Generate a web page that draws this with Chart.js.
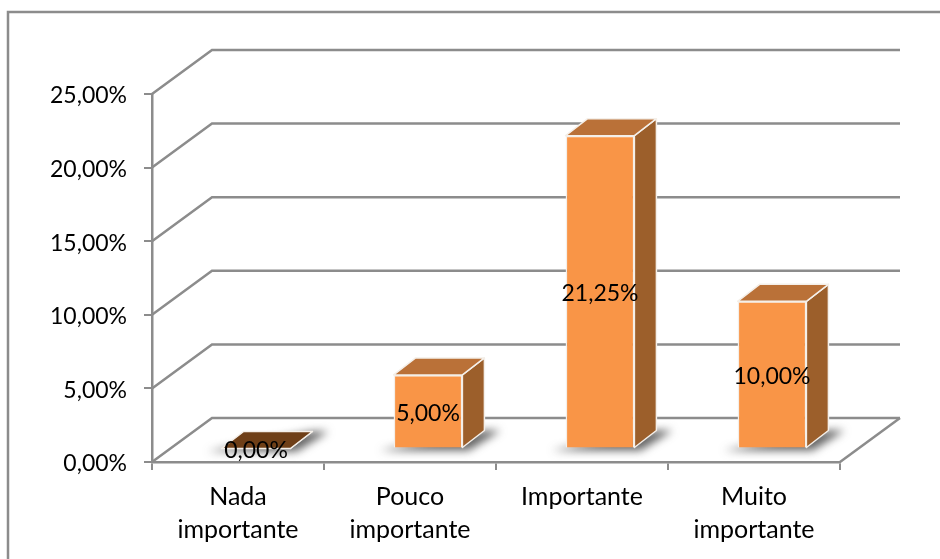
<!DOCTYPE html>
<html>
<head>
<meta charset="utf-8">
<style>
  body { margin: 0; background: #fff; }
</style>
<script src="https://cdn.jsdelivr.net/npm/chart.js@4"></script>
</head>
<body>
<canvas id="myChart" width="940" height="559"></canvas>
<script>
const categories = [["Nada", "importante"], ["Pouco", "importante"], "Importante", ["Muito", "importante"]];
const seriesValues = [0, 5, 21.25, 10];
const yTicks = [0, 5, 10, 15, 20, 25];

const GREY = "#8c8c8c";
const LINE = 2.5;
const NUM_FONT = { family: "Lato", size: 23 };
const CAT_FONT = { family: "Lato", size: 25, lineHeight: 1.32 };
// fake 3d offsets
const wallX = 60, wallY = -44;
const barX = 18, barY = -13.5;
const depthX = 22, depthY = -17;

function pct(v) {
  return v.toFixed(2).replace(".", ",") + "%";
}

function poly(ctx, pts) {
  ctx.beginPath();
  ctx.moveTo(pts[0][0], pts[0][1]);
  pts.slice(1).forEach(p => ctx.lineTo(p[0], p[1]));
  ctx.closePath();
}

const fake3d = {
  id: "fake3d",
  beforeDraw(chart) {
    // frame runs off the picture on the right and at the bottom
    const ctx = chart.ctx;
    ctx.save();
    ctx.strokeStyle = GREY;
    ctx.lineWidth = LINE;
    ctx.beginPath();
    ctx.moveTo(8, 559);
    ctx.lineTo(8, 12);
    ctx.lineTo(940, 12);
    ctx.stroke();
    ctx.restore();
  },
  beforeDatasetsDraw(chart) {
    const ctx = chart.ctx;
    const { left, right } = chart.chartArea;
    const y = chart.scales.y;
    ctx.save();
    ctx.strokeStyle = GREY;
    ctx.lineWidth = LINE;
    // left wall diagonals and back wall lines
    yTicks.forEach(t => {
      const py = y.getPixelForValue(t);
      ctx.beginPath();
      ctx.moveTo(left, py);
      ctx.lineTo(left + wallX, py + wallY);
      ctx.lineTo(right + wallX, py + wallY);
      ctx.stroke();
    });
    // floor right edge
    const py0 = y.getPixelForValue(0);
    ctx.beginPath();
    ctx.moveTo(right, py0);
    ctx.lineTo(right + wallX, py0 + wallY);
    ctx.stroke();
    ctx.restore();
  },
  beforeDatasetDraw(chart) {
    const ctx = chart.ctx;
    const bars = chart.getDatasetMeta(0).data;
    ctx.save();
    ctx.translate(barX, barY);
    bars.forEach((bar, i) => {
      const w = bar.width / 2;
      const x0 = bar.x - w, x1 = bar.x + w;
      const top = bar.y, base = bar.base;
      // floor shadow
      ctx.save();
      ctx.filter = "blur(4px)";
      ctx.fillStyle = "rgba(60,60,60,0.8)";
      poly(ctx, [[x0 - 14, base + 3], [x1 + 6, base + 3], [x1 + depthX + 16, base + depthY], [x1 + depthX, base + depthY]]);
      ctx.fill();
      ctx.restore();

      ctx.strokeStyle = "#f4efe9";
      ctx.lineWidth = 1.5;
      ctx.lineJoin = "round";
      // side
      poly(ctx, [[x1, top], [x1 + depthX, top + depthY], [x1 + depthX, base + depthY], [x1, base]]);
      ctx.fillStyle = "#9c5f2b";
      ctx.fill();
      ctx.stroke();
      // top
      poly(ctx, [[x0, top], [x0 + depthX, top + depthY], [x1 + depthX, top + depthY], [x1, top]]);
      ctx.fillStyle = seriesValues[i] === 0 ? "#6f3f17" : "#ba7138";
      ctx.fill();
      ctx.stroke();
    });
  },
  afterDatasetDraw(chart) {
    chart.ctx.restore();
  },
  afterDatasetsDraw(chart) {
    const ctx = chart.ctx;
    const bars = chart.getDatasetMeta(0).data;
    ctx.save();
    ctx.font = NUM_FONT.size + "px " + NUM_FONT.family;
    ctx.fillStyle = "#000";
    ctx.textAlign = "center";
    ctx.textBaseline = "middle";
    bars.forEach((bar, i) => {
      ctx.fillText(pct(seriesValues[i]), bar.x + barX, (bar.y + bar.base) / 2 + barY + 2);
    });
    ctx.restore();
  }
};

new Chart(document.getElementById("myChart").getContext("2d"), {
  type: "bar",
  data: {
    labels: categories,
    datasets: [{
      data: seriesValues,
      backgroundColor: "#f99547",
      borderColor: "#f4efe9",
      borderWidth: 1.5,
      categoryPercentage: 0.4,
      barPercentage: 1
    }]
  },
  options: {
    responsive: false,
    animation: false,
    layout: { padding: { top: 94, right: 100, left: 0, bottom: 0 } },
    plugins: { legend: { display: false }, tooltip: { enabled: false } },
    scales: {
      x: {
        afterFit(scale) { scale.height = 97; },
        grid: { offset: true, drawOnChartArea: false, color: GREY, lineWidth: 2, tickLength: 8 },
        border: { display: true, color: GREY, width: LINE },
        ticks: { color: "#000", font: CAT_FONT, maxRotation: 0, padding: 10 }
      },
      y: {
        min: 0,
        max: 25,
        afterFit(scale) { scale.width = 152; },
        afterBuildTicks(scale) { scale.ticks = yTicks.map(v => ({ value: v })); },
        grid: { drawOnChartArea: false, color: GREY, lineWidth: 2, tickLength: 8 },
        border: { display: true, color: GREY, width: LINE },
        ticks: { color: "#000", font: NUM_FONT, padding: 17, labelOffset: 2, callback: v => pct(v) }
      }
    }
  },
  plugins: [fake3d]
});
</script>
</body>
</html>
